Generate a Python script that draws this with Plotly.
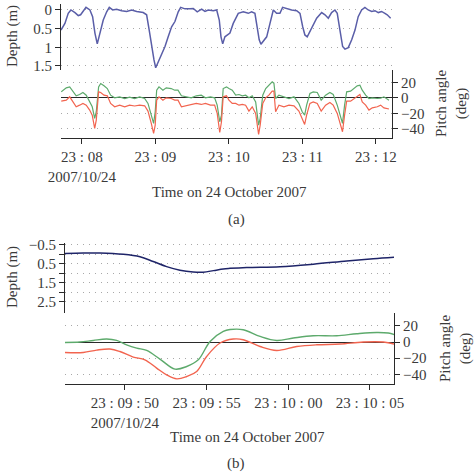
import pandas as pd
import plotly.graph_objects as go

# ---------------- data: panel (a) ----------------
# seconds after 23:08:00
depth_a_t = [-17.1, -13.9, -11.2, -9.0, -5.7, -3.0, -1.1, 1.1, 3.3, 6.5, 8.7, 10.6, 12.5, 14.7, 17.4,
             20.2, 22.3, 25.1, 28.3, 32.4, 36.5, 40.6, 44.7, 50.0, 52.8, 54.9, 56.9, 58.8, 60.2, 62.3,
             65.1, 67.8, 70.4, 73.2, 75.9, 78.6, 80.6, 84.1, 88.2, 90.9, 94.1, 97.7, 100.4, 103.1,
             107.2, 110.0, 112.1, 113.5, 114.9, 116.7, 120.8, 123.5, 127.6, 131.7, 135.8, 138.5,
             141.2, 143.1, 144.7, 146.1, 148.0, 150.8, 153.5, 156.2, 158.9, 161.6, 163.8, 167.1,
             171.2, 175.3, 178.0, 180.2, 182.0, 183.9, 187.5, 191.6, 195.7, 198.4, 201.1, 203.8,
             206.5, 208.4, 210.6, 212.8, 214.7, 217.4, 220.2, 222.9, 225.5, 228.3, 231.0, 233.7,
             236.5, 239.2, 241.9, 244.6, 247.3, 249.2, 252.0]
depth_a = [0.54, 0.36, 0.09, 0.0, 0.07, 0.15, 0.13, 0.03, -0.07, 0.0, 0.18, 0.62, 0.91, 0.62, 0.27,
           0.05, -0.07, 0.0, -0.02, 0.02, 0.04, 0.0, 0.04, 0.07, 0.13, 0.54, 0.98, 1.34, 1.55, 1.39,
           1.16, 0.98, 0.72, 0.45, 0.31, 0.05, -0.07, -0.03, -0.03, -0.04, 0.05, -0.02, 0.04, 0.0,
           0.02, 0.0, 0.27, 0.72, 0.91, 0.72, 0.62, 0.36, 0.09, 0.05, 0.09, 0.05,
           0.09, 0.45, 0.8, 0.92, 0.85, 0.72, 0.36, 0.0, 0.09, 0.09, -0.07, -0.03,
           0.0, 0.02, 0.09, 0.45, 0.67, 0.72, 0.49, 0.22, 0.07, 0.13, 0.22, 0.07,
           0.0, 0.09, 0.54, 0.98, 1.05, 1.01, 0.8, 0.54, 0.18, 0.0, -0.07, 0.0,
           0.04, 0.02, 0.07, 0.04, 0.09, 0.13, 0.22]

pitch_a_t = [-16.9, -12.8, -10.0, -7.3, -4.7, -1.9, 0.8, 3.5, 6.3, 8.4, 10.4, 11.7, 13.6, 15.3, 18.0,
             20.7, 23.4, 26.7, 30.8, 34.9, 38.9, 43.0, 47.1, 51.2, 53.9, 56.6, 58.5, 59.8, 61.0,
             62.9, 66.1, 68.8, 72.9, 75.7, 78.4, 81.2, 85.1, 89.2, 93.3, 97.4, 100.8, 104.9,
             108.3, 110.4, 112.5, 113.9, 115.3, 118.0, 120.0, 122.7, 125.5, 128.2, 130.9, 133.6,
             136.3, 139.0, 141.8, 144.2, 145.5, 147.6, 150.0, 152.6, 155.3, 156.7, 158.1, 160.8,
             164.9, 169.0, 173.1, 177.1, 179.8, 181.8, 183.4, 186.1, 188.8, 192.1, 195.3, 198.9,
             202.4, 205.1, 208.4, 211.2, 212.7, 214.4, 216.1, 219.3, 222.0, 224.7, 226.9, 228.8,
             231.6, 234.3, 237.0, 241.1, 243.8, 246.5, 250.6]
pitch_a_green = [7.7, 12.9, 14.2, 7.7, 2.6, 4.3, 6.9, 3.4, -5.2, -11.6, -26.7, -18, 14.2, 18.5, 15.5,
                 12, 3.4, 0, 1.3, -0.9, 1.0, -0.9, 1.3, -0.9, -7.3, -22.4, -33.1, -18, 9.9,
                 14.2, 9.9, 12.9, 12, 9.9, 9.9, 2.6, 1.3, 0, 2.6, 3.4, 0, 1.3,
                 0, -9.5, -31, -22.4, 12, 14.2, 12, 9.9, 3.4, 4.3, 2.6, 3.4,
                 0, 2.6, -5.2, -35.3, -26.7, 3.4, 12, 16.3, 20.6, 19, -0.9, 3.4,
                 1.3, -0.9, 1.3, -7.3, -18, -22.4, -9.5, 5.6, 7.7, 6.9, -3, 3.4,
                 6.9, 4.3, -9.5, -26.7, -33.1, -9.5, 7.7, 8.6, 12, 15.5, 16.3, 9.9,
                 3.4, -0.9, 0, -0.9, -0.5, 1.3, -3]
pitch_a_red = [-4.3, -3, 1.3, -6, -11.6, -9.5, -7.3, -9.5, -15.9, -22.4, -39.6, -28.8, 7.7, 6.9, 3.4,
               2.6, -7.3, -11.6, -9.5, -11.6, -9.5, -10.6, -9.5, -10.3, -17.2, -33.1, -46, -35.3, -3,
               1.3, -3, 0, -0.9, -3, -3, -11.6, -10.3, -8.6, -7.3, -8.6, -7.3, -9.5,
               -9.5, -20.2, -44.7, -31, 1.3, 2.6, -3, -7.3, -7.3, -9.5, -8.6, -9.5,
               -17.2, -11.6, -20.2, -47.3, -35.3, -7.3, 0, 3.4, 8.6, 8.6, -18, -9.5,
               -11.6, -9.5, -10.3, -17.2, -26.7, -34.4, -22.4, -7.3, -5.2, -7.3, -17.2, -9.5,
               -6, -9.5, -20.2, -35.3, -43.9, -22.4, -4.3, -4.3, -0.9, 2.6, 4.3, -5.2,
               -9.5, -15.9, -13, -11.6, -9.5, -13, -14.5]

ticks_a = ["2007-10-24 23:08:00", "2007-10-24 23:09:00", "2007-10-24 23:10:00",
           "2007-10-24 23:11:00", "2007-10-24 23:12:00"]
ticklabels_a = ["23 : 08<br>2007/10/24", "23 : 09", "23 : 10", "23 : 11", "23 : 12"]

# ---------------- data: panel (b) ----------------
# seconds after 23:09:50
depth_b_t = [-3.67, -2.55, -1.53, -0.10, 0.92, 1.73, 2.55, 3.37, 4.18, 4.79, 5.41, 6.02, 6.43,
             7.45, 9.49, 11.53, 13.58, 15.2, 16.49]
depth_b = [-0.04, -0.07, -0.07, 0.0, 0.13, 0.38, 0.65, 0.84, 0.93, 0.94, 0.86, 0.77, 0.74,
           0.69, 0.65, 0.52, 0.35, 0.23, 0.15]

pitch_b_green_t = [-3.67, -2.76, -1.94, -1.12, -0.51, 0.10, 0.72, 1.33, 2.14, 3.06, 3.78, 4.49, 5.21,
                   6.02, 6.43, 7.24, 8.27, 9.29, 10.31, 11.53, 12.96, 14.19, 15.41, 16.12, 16.49]
pitch_b_green = [-0.5, 0, 2, 3.7, 2, -3.4, -7.5, -10.4, -21.1, -33.5, -30.3, -22, 0.8,
                 13.2, 15.5, 15.3, 7, 2, 5, 7.8, 7.8, 10.3, 11.9, 11.2, 9.1]
pitch_b_red_t = [-3.67, -2.55, -1.73, -0.92, -0.31, 0.51, 1.22, 1.94, 2.55, 3.17, 3.78, 4.39, 5.00,
                 5.82, 6.63, 7.24, 8.27, 9.29, 10.51, 11.74, 13.17, 14.59, 15.82, 16.49]
pitch_b_red = [-12.9, -12.9, -10, -8.7, -11.7, -18.6, -22, -32.3, -40.6, -45.6, -42.7, -36.5, -17.9,
               -1.2, 3.7, 2.9, -5.5, -10.4, -5.5, -3.4, -2.5, 0, 0, -2.5]

ticks_b = ["2007-10-24 23:09:50", "2007-10-24 23:09:55", "2007-10-24 23:10:00", "2007-10-24 23:10:05"]
ticklabels_b = ["23 : 09 : 50<br>2007/10/24", "23 : 09 : 55", "23 : 10 : 00", "23 : 10 : 05"]

pitch_ticks = [20, 0, -20, -40]
pitch_ticklabels = ["20", "0", "\u221220", "\u221240"]
depth_a_ticks = [0, 0.5, 1, 1.5]
depth_a_ticklabels = ["0", "0.5", "1", "1.5"]
depth_b_ticks = [-0.5, 0, 0.5, 1, 1.5, 2, 2.5]
depth_b_ticklabels = ["\u22120.5", "", "0.5", "", "1.5", "", "2.5"]

# ---------------- helpers ----------------
base_a = pd.Timestamp("2007-10-24 23:08:00")
base_b = pd.Timestamp("2007-10-24 23:09:50")


def to_time(base, secs):
    return [base + pd.Timedelta(seconds=s) for s in secs]


W, H = 475, 474
FONT = "Liberation Serif"
TXT = "#3a3a3a"
AX = "#2a2a2a"
GRID = "#a8a8a8"
BLUE_A = "#5a5ea8"
BLUE_B = "#1e2468"
GREEN = "#5daa6c"
RED = "#f2644f"

fig = go.Figure()

# panel (a)
fig.add_trace(go.Scatter(x=to_time(base_a, depth_a_t), y=depth_a, mode="lines",
                         line=dict(color=BLUE_A, width=1.5), xaxis="x2", yaxis="y2", showlegend=False))
fig.add_trace(go.Scatter(x=to_time(base_a, pitch_a_t), y=pitch_a_green, mode="lines",
                         line=dict(color=GREEN, width=1.2), xaxis="x", yaxis="y", showlegend=False))
fig.add_trace(go.Scatter(x=to_time(base_a, pitch_a_t), y=pitch_a_red, mode="lines",
                         line=dict(color=RED, width=1.2), xaxis="x", yaxis="y", showlegend=False))
# panel (b)
fig.add_trace(go.Scatter(x=to_time(base_b, depth_b_t), y=depth_b, mode="lines", line_shape="spline",
                         line=dict(color=BLUE_B, width=1.5), xaxis="x4", yaxis="y4", showlegend=False))
fig.add_trace(go.Scatter(x=to_time(base_b, pitch_b_green_t), y=pitch_b_green, mode="lines",
                         line_shape="spline", line=dict(color=GREEN, width=1.4),
                         xaxis="x3", yaxis="y3", showlegend=False))
fig.add_trace(go.Scatter(x=to_time(base_b, pitch_b_red_t), y=pitch_b_red, mode="lines",
                         line_shape="spline", line=dict(color=RED, width=1.4),
                         xaxis="x3", yaxis="y3", showlegend=False))


def px(x):
    return x / W


def py(y):
    return 1 - y / H


range_a = [base_a + pd.Timedelta(seconds=-17.1), base_a + pd.Timedelta(seconds=253.1)]
range_b = [base_b + pd.Timedelta(seconds=-3.67), base_b + pd.Timedelta(seconds=16.47)]

tickfont = dict(family=FONT, size=15, color=TXT)
griddash = "1px,5px"

common_x = dict(type="date", showgrid=False, zeroline=False, showline=True, linecolor=AX, linewidth=1.2,
                ticks="outside", ticklen=5, tickcolor=AX, tickwidth=1.2, tickfont=tickfont,
                automargin=False)
hidden_x = dict(type="date", visible=False, showgrid=False, zeroline=False, automargin=False)

pitch_y = dict(side="right", range=[-52, 36], tickvals=pitch_ticks, ticktext=pitch_ticklabels,
               showgrid=True, gridcolor=GRID, griddash=griddash, gridwidth=1,
               zeroline=True, zerolinecolor=AX, zerolinewidth=1.3,
               showline=True, linecolor=AX, linewidth=1.2, ticks="outside", ticklen=5,
               tickcolor=AX, tickwidth=1.2, tickfont=tickfont, automargin=False)
depth_y = dict(side="left", showgrid=True, gridcolor=GRID, griddash=griddash, gridwidth=1,
               zeroline=False, showline=True, linecolor=AX, linewidth=1.2, ticks="outside",
               ticklen=5, tickcolor=AX, tickwidth=1.2, tickfont=tickfont, automargin=False)

fig.update_layout(
    template="none",
    width=W, height=H, margin=dict(l=0, r=0, t=0, b=0, autoexpand=False),
    paper_bgcolor="white", plot_bgcolor="white",
    font=dict(family=FONT, size=15, color=TXT),
    xaxis=dict(**common_x, domain=[px(61), px(392)], anchor="y", range=range_a,
               tickvals=ticks_a, ticktext=ticklabels_a),
    yaxis=dict(**pitch_y, domain=[py(138), py(70)], anchor="x"),
    xaxis2=dict(**hidden_x, domain=[px(61), px(392)], anchor="y2", range=range_a),
    yaxis2=dict(**depth_y, domain=[py(70), py(4)], anchor="x2", range=[1.61, -0.16],
                tickvals=depth_a_ticks, ticktext=depth_a_ticklabels),
    xaxis3=dict(**common_x, domain=[px(65), px(394)], anchor="y3", range=range_b,
                tickvals=ticks_b, ticktext=ticklabels_b),
    yaxis3=dict(**pitch_y, domain=[py(384), py(313)], anchor="x3"),
    xaxis4=dict(**hidden_x, domain=[px(65), px(394)], anchor="y4", range=range_b),
    yaxis4=dict(**depth_y, domain=[py(313), py(243)], anchor="x4", range=[3.1, -0.6],
                tickvals=depth_b_ticks, ticktext=depth_b_ticklabels),
)

ann = []


def add_text(text, x, y, size=15, angle=0):
    ann.append(dict(text=text, x=px(x), y=py(y), xref="paper", yref="paper", showarrow=False,
                    xanchor="center", yanchor="middle", textangle=angle,
                    font=dict(family=FONT, size=size, color=TXT)))


add_text("Time on 24 October 2007", 229, 192)
add_text("(a)", 236, 219)
add_text("Time on 24 October 2007", 247, 437)
add_text("(b)", 236, 463)
add_text("Depth (m)", 13, 36, angle=-90)
add_text("Depth (m)", 12, 277, angle=-90)
add_text("Pitch angle<br>(deg)", 451, 104, angle=-90)
add_text("Pitch angle<br>(deg)", 455, 349, angle=-90)

fig.update_layout(annotations=ann)

fig.write_html("out.html")
